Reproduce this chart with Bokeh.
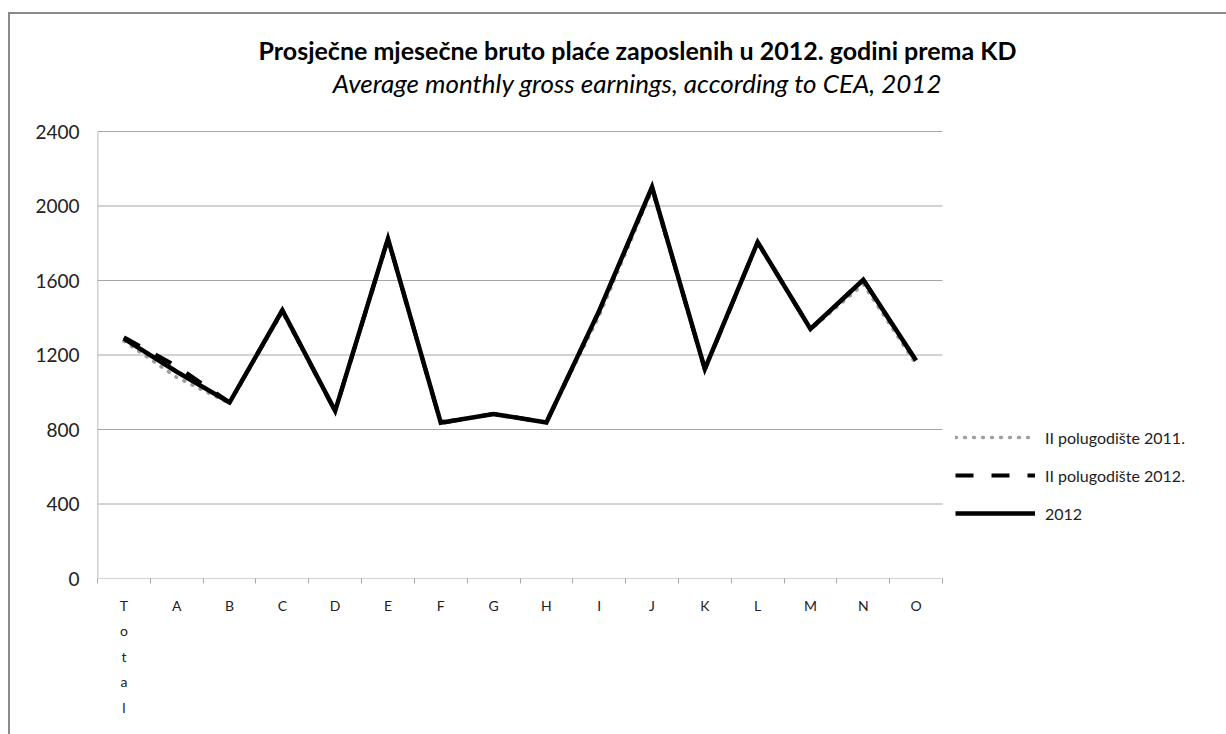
from bokeh.plotting import figure
from bokeh.models import FixedTicker, Range1d, Legend, LegendItem, Label
from bokeh.embed import file_html
from bokeh.resources import INLINE

categories = ["Total", "A", "B", "C", "D", "E", "F", "G", "H", "I", "J", "K", "L", "M", "N", "O"]
h2_2011 = [1275, 1080, 940, 1430, 895, 1815, 845, 880, 840, 1410, 2085, 1120, 1800, 1335, 1580, 1150]
h2_2012 = [1295, 1140, 945, 1440, 898, 1825, 835, 884, 838, 1435, 2100, 1123, 1806, 1340, 1604, 1168]
y2012 = [1288, 1110, 945, 1440, 900, 1825, 837, 883, 838, 1438, 2102, 1125, 1806, 1340, 1604, 1170]
y_ticks = [0, 400, 800, 1200, 1600, 2000, 2400]
legend_labels = ["II polugodište 2011.", "II polugodište 2012.", "2012"]
title_text = "Prosječne mjesečne bruto plaće zaposlenih u 2012. godini prema KD"
subtitle_text = "Average monthly gross earnings, according to CEA, 2012"

FONT = "Lato"
n = len(categories)
xs = list(range(n))
bounds = [i - 0.5 for i in range(n + 1)]
y_max = y_ticks[-1]

# geometry: the chart area is 845 x 447 px; the frame is extended up and right
# so that titles and legend (drawn inside it) are not clipped
PLOT_W, PLOT_H = 845, 447
FRAME_W, FRAME_H = 1129, 548
x_end = -0.5 + n * FRAME_W / PLOT_W
y_end = y_max * FRAME_H / PLOT_H

p = figure(frame_width=FRAME_W, frame_height=FRAME_H, output_backend="svg", toolbar_location=None,
           x_range=Range1d(-0.5, x_end), y_range=Range1d(0, y_end), title=None,
           min_border_left=87, min_border_right=0, min_border_top=16, min_border_bottom=156)
p.styles = {"margin-left": "8px", "margin-top": "12px",
            "border-left": "2px solid #8a8a8a", "border-top": "2px solid #8a8a8a"}
p.outline_line_color = None
p.background_fill_color = "white"
p.border_fill_color = "white"

# axes
p.xaxis.ticker = FixedTicker(ticks=xs, minor_ticks=bounds)
p.xaxis.major_label_overrides = {i: ("\n".join(list(c)) if c == "Total" else c) for i, c in enumerate(categories)}
p.xaxis.major_tick_line_color = None
p.xaxis.minor_tick_out = 5
p.xaxis.minor_tick_in = 0
p.xaxis.minor_tick_line_color = "#a6a6a6"
p.xaxis.axis_line_color = None
p.xaxis.major_label_text_font = FONT
p.xaxis.major_label_text_font_size = "14px"
p.xaxis.major_label_text_color = "#222222"
p.xaxis.major_label_text_line_height = 1.5
p.xaxis.major_label_standoff = 12

p.yaxis.ticker = FixedTicker(ticks=y_ticks)
p.yaxis.axis_line_color = None
p.yaxis.major_tick_line_color = None
p.yaxis.minor_tick_line_color = None
p.yaxis.major_label_text_font = FONT
p.yaxis.major_label_text_font_size = "19px"
p.yaxis.major_label_text_color = "#222222"
p.yaxis.major_label_standoff = 12

p.xgrid.grid_line_color = None
p.ygrid.grid_line_color = None

# gridlines and axis lines limited to the chart area
p.segment(x0=[-0.5] * len(y_ticks), x1=[n - 0.5] * len(y_ticks), y0=y_ticks, y1=y_ticks,
          line_color="#a6a6a6", line_width=1)
p.segment(x0=[-0.5], x1=[-0.5], y0=[0], y1=[y_max], line_color="#a6a6a6", line_width=1.5)

r1 = p.line(xs, h2_2011, line_color="#a0a0a0", line_width=3.5, line_dash="1 8", line_cap="round")
r2 = p.line(xs, h2_2012, line_color="black", line_width=4, line_dash="18 18")
r3 = p.line(xs, y2012, line_color="black", line_width=4.5, line_join="miter")

legend = Legend(items=[LegendItem(label=legend_labels[0], renderers=[r1]),
                       LegendItem(label=legend_labels[1], renderers=[r2]),
                       LegendItem(label=legend_labels[2], renderers=[r3])],
                location=(858, 55), glyph_width=80, glyph_height=20, spacing=18,
                padding=5, margin=0, border_line_color=None, background_fill_alpha=0,
                label_text_font=FONT, label_text_font_size="16px", label_standoff=10,
                label_text_color="#222222")
p.add_layout(legend, "center")

p.add_layout(Label(x=540, y=529, x_units="screen", y_units="screen", text=title_text,
                   text_font=FONT, text_font_style="bold", text_font_size="25px",
                   text_align="center", text_baseline="middle", text_color="black"))
p.add_layout(Label(x=540, y=496, x_units="screen", y_units="screen", text=subtitle_text,
                   text_font=FONT, text_font_style="italic", text_font_size="26px",
                   text_align="center", text_baseline="middle", text_color="black"))

open("out.html", "w").write(file_html(p, INLINE))
